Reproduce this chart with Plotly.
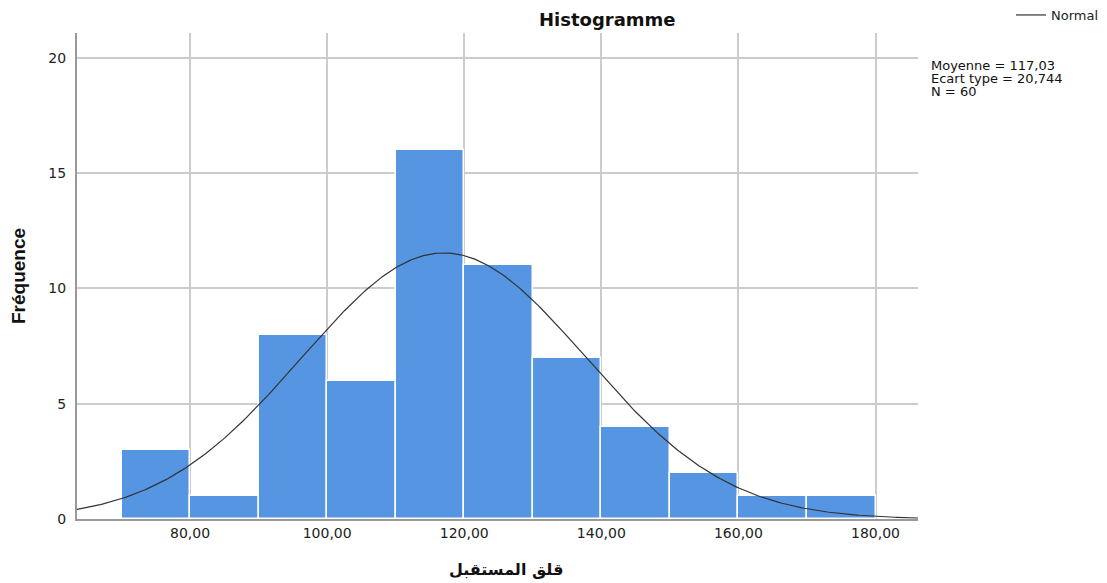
import numpy as np
import plotly.graph_objects as go

# Data
bin_starts = [70, 80, 90, 100, 110, 120, 130, 140, 150, 160, 170]
counts = [3, 1, 8, 6, 16, 11, 7, 4, 2, 1, 1]
bin_width = 10
mean_val = 117.03
sd_val = 20.744
n_val = 60
x_tickvals = [80, 100, 120, 140, 160, 180]
x_ticktext = ["80,00", "100,00", "120,00", "140,00", "160,00", "180,00"]
y_tickvals = [0, 5, 10, 15, 20]
stats_lines = ["Moyenne = 117,03", "Ecart type = 20,744", "N = 60"]
x_title = "قلق المستقبل"
y_title = "Fréquence"
chart_title = "Histogramme"

x_range = [63.5, 186.2]
y_range = [0, 21.08]

centers = [s + bin_width / 2 for s in bin_starts]
xc = np.linspace(x_range[0], x_range[1], 400)
yc = n_val * bin_width / (sd_val * np.sqrt(2 * np.pi)) * np.exp(-0.5 * ((xc - mean_val) / sd_val) ** 2)

TXT = "DejaVu Sans, Liberation Sans, sans-serif"

fig = go.Figure()
fig.add_trace(go.Bar(
    x=centers, y=counts, width=bin_width,
    marker=dict(color="#5595E2", line=dict(color="white", width=1.5)),
    showlegend=False, hoverinfo="skip"))
fig.add_trace(go.Scatter(
    x=xc, y=yc, mode="lines", name="Normal",
    line=dict(color="#333333", width=1.2)))

# page has an 8px body margin: compensate
OFF = 8
W, H = 1107 - OFF, 583 - OFF
L, R, T, B = 77 - OFF, 189, 33 - OFF, 64
pw = W - L - R
ph = H - T - B

def px(xpage):
    return (xpage - OFF - L) / pw

def py(ypage):
    return (H - B - (ypage - OFF)) / ph

fig.update_layout(
    width=W, height=H,
    margin=dict(l=L, r=R, t=T, b=B, autoexpand=False),
    plot_bgcolor="white", paper_bgcolor="white",
    font=dict(family=TXT, size=13, color="#222222"),
    bargap=0,
    xaxis=dict(range=x_range, tickvals=x_tickvals, ticktext=x_ticktext,
               tickfont=dict(size=14),
               showgrid=True, gridcolor="#CCCCCC", gridwidth=1.5,
               showline=True, linecolor="#999999", linewidth=2,
               ticks="", zeroline=False, automargin=False),
    yaxis=dict(range=y_range, tickvals=y_tickvals,
               tickfont=dict(size=14),
               showgrid=True, gridcolor="#CCCCCC", gridwidth=1.5,
               showline=True, linecolor="#999999", linewidth=2,
               ticks="", zeroline=False, ticklabelstandoff=6, automargin=False,
               title=dict(text="<b>" + y_title + "</b>",
                          font=dict(size=19, color="#111111", family="Liberation Sans, Arial, sans-serif"),
                          standoff=21)),
    legend=dict(x=px(1104), y=py(15), xanchor="right", yanchor="middle",
                bgcolor="rgba(0,0,0,0)", font=dict(size=13, color="#222222"),
                itemwidth=30),
    showlegend=True,
)

fig.add_annotation(x=px(607), y=py(20), xref="paper", yref="paper",
                   text="<b>" + chart_title + "</b>", showarrow=False, borderpad=0,
                   font=dict(size=18, color="#111111", family=TXT), xanchor="center", yanchor="middle")

fig.add_annotation(x=px(506), y=py(569), xref="paper", yref="paper",
                   text="<b>" + x_title + "</b>", showarrow=False,
                   font=dict(size=16, color="#111111", family=TXT), xanchor="center", yanchor="middle")

for i, line in enumerate(stats_lines):
    fig.add_annotation(x=px(929), y=py(66 + i * 12.5), xref="paper", yref="paper",
                       text=line, showarrow=False, xanchor="left", yanchor="middle",
                       font=dict(size=13, color="#111111", family=TXT))

fig.write_html("out.html")
